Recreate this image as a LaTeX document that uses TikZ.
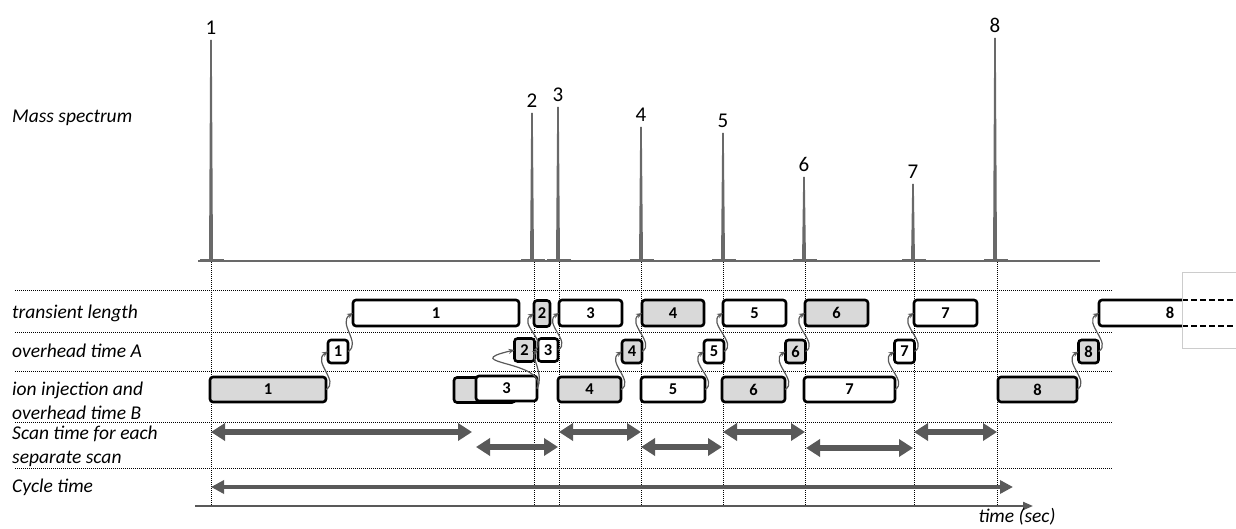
\documentclass[tikz,border=0pt]{standalone}
\usepackage{fontspec}
\setmainfont{Carlito}
\usepackage{tikz}
\usetikzlibrary{arrows.meta}
\definecolor{peakgray}{RGB}{105,105,105}
\definecolor{spangray}{RGB}{89,89,89}
\definecolor{boxgray}{RGB}{217,217,217}

\begin{document}
\begin{tikzpicture}[x=1pt, y=-1pt,
    rowlabel/.style={anchor=west, inner sep=0pt, align=left, font=\fontsize{19.5}{24}\selectfont\itshape},
    peaklabel/.style={anchor=south, inner sep=0pt, font=\fontsize{21}{24}\selectfont},
    gridline/.style={line width=0.8pt, dash pattern=on 1pt off 1pt},
    box/.style={rectangle, draw=black, line width=2.6pt, rounded corners=3pt, fill=white, inner sep=0pt, outer sep=0pt, font=\fontsize{16.5}{18}\selectfont\bfseries},
    tbox/.style={box, minimum height=26pt},
    abox/.style={box, minimum width=20pt, minimum height=23pt},
    ibox/.style={box, minimum height=25pt},
    grayfill/.style={fill=boxgray},
    hop/.style={-{Stealth[length=6pt,width=5pt]}, spangray, line width=1.2pt},
    scanspan/.style={{Triangle[length=14pt,width=17pt]}-{Triangle[length=14pt,width=17pt]}, spangray, line width=6pt},
    cyclespan/.style={{Triangle[length=13pt,width=13pt]}-{Triangle[length=13pt,width=13pt]}, spangray, line width=4pt}
]
\useasboundingbox (0,0) rectangle (1236,529);

\node[rowlabel] (lms) at (12,118) {Mass spectrum};
\node[rowlabel] (ltr) at (12,313) {transient length};
\node[rowlabel] (lova) at (12,351) {overhead time A};
\node[rowlabel] (linj) at (12,401) {ion injection and\\overhead time B};
\node[rowlabel] (lscan) at (12,446) {Scan time for each\\separate scan};
\node[rowlabel] (lcyc) at (12,487) {Cycle time};

\foreach \y in {290,332,371,422,468}
    \draw[gridline] (15,\y) -- (1113,\y);
\foreach \x in {211,534,559,641,723,805,914,997}
    \draw[gridline] (\x,262) -- (\x,506);

\draw[peakgray, line width=2.5pt] (198,261) -- (1100,261);
\foreach \x/\top/\n in {211/40/1, 532/113/2, 558/107/3, 641/127/4, 723/133/5, 804/177/6, 913/184/7, 995/38/8}{
    \fill[peakgray] (\x-2,261) -- (\x-0.8,\top) -- (\x+0.8,\top) -- (\x+2,261) -- cycle;
    \fill[peakgray] (\x-11,259.5) rectangle (\x+13,261);
    \node[peaklabel] (m\n) at (\x,\top-5) {\n};
}

\node[tbox, minimum width=166pt] (T1) at (436,313) {1};
\node[tbox, grayfill, minimum width=16pt] (T2) at (542,313.5) {2};
\node[tbox, minimum width=63pt] (T3) at (590.5,313) {3};
\node[tbox, grayfill, minimum width=62pt] (T4) at (673,313) {4};
\node[tbox, minimum width=63pt] (T5) at (754.5,313) {5};
\node[tbox, grayfill, minimum width=63pt] (T6) at (836.5,313) {6};
\node[tbox, minimum width=63pt] (T7) at (945.5,313) {7};
\node[tbox, draw=none, fill=none, minimum width=142pt] (T8) at (1170,313) {8};
\draw[line width=2.6pt, rounded corners=3pt] (1182,300) -- (T8.north west) -- (T8.south west) -- (1182,326);
\draw[line width=2.6pt, dash pattern=on 6pt off 3pt] (1182,300) -- (1236,300) (1182,326) -- (1236,326);
\draw[black!20, line width=0.6pt] (1236,272) -- (1182,272) -- (1182,348) -- (1236,348);

\node[abox] (A1) at (338,351.5) {1};
\node[abox, grayfill] (A2) at (524.5,350) {2};
\node[abox] (A3) at (548,350) {3};
\node[abox, grayfill] (A4) at (632,351.5) {4};
\node[abox] (A5) at (714,351.5) {5};
\node[abox, grayfill] (A6) at (795.5,351.5) {6};
\node[abox] (A7) at (904.5,351.5) {7};
\node[abox, grayfill] (A8) at (1088.5,351.5) {8};

\node[ibox, grayfill, minimum width=116pt] (I1) at (268,389.5) {1};
\node[ibox, grayfill, minimum width=61pt] (I2) at (484.5,390) {};
\node[ibox, minimum width=61pt] (I3) at (506.5,388.5) {3};
\node[ibox, grayfill, minimum width=63pt] (I4) at (589.5,389.5) {4};
\node[ibox, minimum width=64pt] (I5) at (673,389.5) {5};
\node[ibox, grayfill, minimum width=63pt] (I6) at (753.5,389.5) {6};
\node[ibox, minimum width=91pt] (I7) at (849.5,389.5) {7};
\node[ibox, grayfill, minimum width=79pt] (I8) at (1037.5,389.5) {8};

\foreach \a/\b in {I1/A1, A1/T1, A2/T2, A3/T3, I4/A4, A4/T4, I5/A5, A5/T5, I6/A6, A6/T6, I7/A7, A7/T7, I8/A8, A8/T8}
    \draw[hop] (\a.east) .. controls +(14,-8) and +(-16,10) .. (\b.west);
\draw[hop] (I3.east) .. controls +(12,-28) and +(-60,14) .. (A2.west);
\draw[hop] (I3.east) .. controls +(8,-14) and +(-8,6) .. (A3.west);

\draw[scanspan] (211,432) -- (472,432);
\draw[scanspan] (476,447) -- (558,447);
\draw[scanspan] (559,432) -- (641,432);
\draw[scanspan] (641,447) -- (722,447);
\draw[scanspan] (723,432) -- (805,432);
\draw[scanspan] (806,448) -- (913,448);
\draw[scanspan] (914,432) -- (997,432);
\draw[cyclespan] (211,487) -- (1013,487);

\draw[spangray, line width=2pt, -{Triangle[length=10pt,width=8pt]}] (195,506) -- (1033,506);
\node[rowlabel, anchor=center] (ltime) at (1017,517) {time (sec)};

\end{tikzpicture}
\end{document}
